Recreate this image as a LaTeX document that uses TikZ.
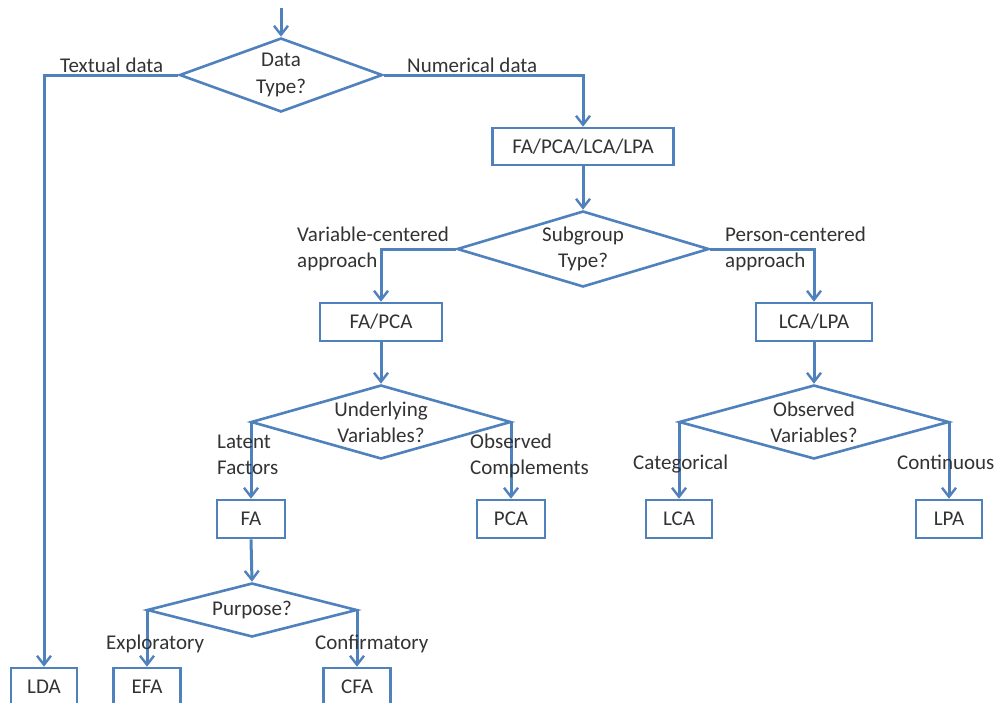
\documentclass[tikz,border=0pt]{standalone}
\usepackage{fontspec}
\setmainfont{Carlito}
\usetikzlibrary{shapes.geometric,arrows.meta}
\definecolor{lineblue}{HTML}{4F81BD}
\definecolor{txt}{HTML}{333333}
\begin{document}
\begin{tikzpicture}[x=1pt,y=-1pt,
  font=\fontsize{21}{26}\selectfont, text=txt,
  box/.style={draw=lineblue, line width=2.6pt, minimum height=38pt, inner sep=0pt},
  dec/.style={draw=lineblue, line width=2.6pt, shape=diamond, inner sep=-30pt, align=center},
  conn/.style={draw=lineblue, line width=3pt},
  arr/.style={conn, -{Straight Barb[length=9pt,width=14pt,line width=2.4pt]}},
  lab/.style={inner sep=0pt, anchor=base west, align=left}
]
\useasboundingbox (0,0) rectangle (998,702);
\path[clip] (0,0) rectangle (998,702);
\fill[white] (0,0) rectangle (998,702);

% decisions
\node[dec, minimum width=203pt, minimum height=74pt] (d1) at (281,75) {Data\\[1pt]Type?};
\node[dec, minimum width=252pt, minimum height=76pt] (d2) at (583,249) {Subgroup\\Type?};
\node[dec, minimum width=260pt, minimum height=74pt] (d3) at (381,422) {Underlying\\Variables?};
\node[dec, minimum width=270pt, minimum height=74pt] (d4) at (814,422) {Observed\\Variables?};
\node[dec, minimum width=210pt, minimum height=54pt] (d5) at (252,610) {Purpose?};

% boxes
\node[box, minimum width=181pt, minimum height=37pt] (b1) at (583,146.5) {FA/PCA/LCA/LPA};
\node[box, minimum width=122pt] (b2) at (381,322) {FA/PCA};
\node[box, minimum width=116pt] (b3) at (814,322) {LCA/LPA};
\node[box, minimum width=68pt] (fa) at (251,519) {FA};
\node[box, minimum width=68pt] (pca) at (511,519) {PCA};
\node[box, minimum width=66pt] (lca) at (679,519) {LCA};
\node[box, minimum width=66pt] (lpa) at (949,519) {LPA};
\node[box, minimum width=66pt] (lda) at (44,687) {LDA};
\node[box, minimum width=67pt] (efa) at (147,687) {EFA};
\node[box, minimum width=67pt] (cfa) at (357,687) {CFA};

% connectors
\coordinate (start) at (281,8);
\draw[arr] (start) -- (d1.north);
\draw[arr] (d1.west) -| (lda.north);
\draw[arr] (d1.east) -| (b1.north);
\draw[arr] (b1.south) -- (d2.north);
\draw[arr] (d2.west) -| (b2.north);
\draw[arr] (d2.east) -| (b3.north);
\draw[arr] (b2.south) -- (d3.north);
\draw[arr] (b3.south) -- (d4.north);
\draw[arr] (d3.west) -| (fa.north);
\draw[arr] (d3.east) -| (pca.north);
\draw[arr] (d4.west) -| (lca.north);
\draw[arr] (d4.east) -| (lpa.north);
\draw[arr] (fa.south) -- (d5.north);
\draw[arr] (d5.west) -| (efa.north);
\draw[arr] (d5.east) -| (cfa.north);

% labels (two-line labels: base = last line)
\node[lab] (l1) at (60,72) {Textual data};
\node[lab] (l2) at (407,72) {Numerical data};
\node[lab] (l3) at (297,267) {Variable-centered\\approach};
\node[lab] (l4) at (725,267) {Person-centered\\approach};
\node[lab] (l5) at (217,474) {Latent\\Factors};
\node[lab] (l6) at (470,474) {Observed\\Complements};
\node[lab] (l7) at (633,469) {Categorical};
\node[lab] (l8) at (897,469) {Continuous};
\node[lab] (l9) at (106,649) {Exploratory};
\node[lab] (l10) at (315,649) {Confirmatory};
\end{tikzpicture}
\end{document}
